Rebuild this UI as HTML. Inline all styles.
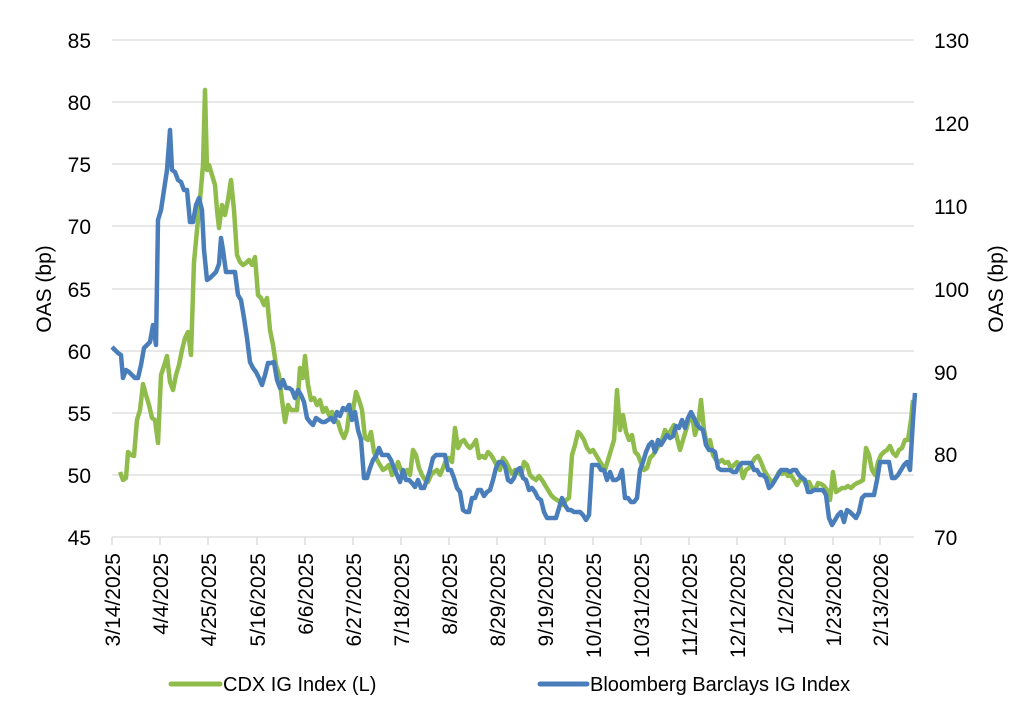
<!DOCTYPE html>
<html><head><meta charset="utf-8"><style>
html,body{margin:0;padding:0;background:#fff;width:1024px;height:717px;overflow:hidden}
text{font-family:"Liberation Sans",Arial,sans-serif;fill:#000}
</style></head><body>
<svg width="1024" height="717" viewBox="0 0 1024 717">
<g stroke="#d9d9d9" stroke-width="1.3">
<line x1="112" x2="914" y1="40" y2="40"/><line x1="112" x2="914" y1="102" y2="102"/>
<line x1="112" x2="914" y1="164" y2="164"/><line x1="112" x2="914" y1="226" y2="226"/>
<line x1="112" x2="914" y1="289" y2="289"/><line x1="112" x2="914" y1="351" y2="351"/>
<line x1="112" x2="914" y1="413" y2="413"/><line x1="112" x2="914" y1="475" y2="475"/>
<line x1="112" x2="914" y1="537" y2="537"/>
</g>
<g stroke="#d9d9d9" stroke-width="1.3"><line x1="112" x2="112" y1="537" y2="545"/><line x1="160" x2="160" y1="537" y2="545"/><line x1="208" x2="208" y1="537" y2="545"/><line x1="257" x2="257" y1="537" y2="545"/><line x1="305" x2="305" y1="537" y2="545"/><line x1="353" x2="353" y1="537" y2="545"/><line x1="401" x2="401" y1="537" y2="545"/><line x1="449" x2="449" y1="537" y2="545"/><line x1="497" x2="497" y1="537" y2="545"/><line x1="545" x2="545" y1="537" y2="545"/><line x1="593" x2="593" y1="537" y2="545"/><line x1="641" x2="641" y1="537" y2="545"/><line x1="689" x2="689" y1="537" y2="545"/><line x1="737" x2="737" y1="537" y2="545"/><line x1="785" x2="785" y1="537" y2="545"/><line x1="833" x2="833" y1="537" y2="545"/><line x1="880" x2="880" y1="537" y2="545"/></g>
<g font-size="21" text-anchor="end">
<text x="91" y="48">85</text><text x="91" y="110">80</text><text x="91" y="172">75</text><text x="91" y="234">70</text><text x="91" y="297">65</text><text x="91" y="359">60</text><text x="91" y="421">55</text><text x="91" y="483">50</text><text x="91" y="545">45</text>
</g>
<g font-size="21" text-anchor="start">
<text x="934" y="48">130</text><text x="934" y="131">120</text><text x="934" y="214">110</text><text x="934" y="297">100</text><text x="934" y="380">90</text><text x="934" y="462">80</text><text x="934" y="545">70</text>
</g>
<text font-size="21" transform="translate(51,289) rotate(-90)" text-anchor="middle">OAS (bp)</text>
<text font-size="21" transform="translate(1003,289) rotate(-90)" text-anchor="middle">OAS (bp)</text>
<g font-size="21" text-anchor="end">
<text transform="translate(120,553) rotate(-90)">3/14/2025</text>
<text transform="translate(168,553) rotate(-90)">4/4/2025</text>
<text transform="translate(216,553) rotate(-90)">4/25/2025</text>
<text transform="translate(265,553) rotate(-90)">5/16/2025</text>
<text transform="translate(313,553) rotate(-90)">6/6/2025</text>
<text transform="translate(361,553) rotate(-90)">6/27/2025</text>
<text transform="translate(409,553) rotate(-90)">7/18/2025</text>
<text transform="translate(457,553) rotate(-90)">8/8/2025</text>
<text transform="translate(505,553) rotate(-90)">8/29/2025</text>
<text transform="translate(553,553) rotate(-90)">9/19/2025</text>
<text transform="translate(601,553) rotate(-90)">10/10/2025</text>
<text transform="translate(649,553) rotate(-90)">10/31/2025</text>
<text transform="translate(697,553) rotate(-90)">11/21/2025</text>
<text transform="translate(745,553) rotate(-90)">12/12/2025</text>
<text transform="translate(793,553) rotate(-90)">1/2/2026</text>
<text transform="translate(841,553) rotate(-90)">1/23/2026</text>
<text transform="translate(888,553) rotate(-90)">2/13/2026</text>
</g>
<polyline fill="none" stroke="#8fbc4a" stroke-width="4.5" stroke-linejoin="round" points="120,472 123,480 126,478 128,452 131,455 134,456 137,420 140,410 143,384 146,395 149,405 152,418 155,420 158,443 161,375 164,366 167,356 170,382 173,390 176,375 179,365 182,350 185,338 188,332 191,355 194,262 197,230 200,200 203,165 205,90 207,170 209,165 212,175 215,185 217,210 219,228 222,205 225,215 228,200 231,180 234,210 237,255 240,262 243,265 246,263 249,260 252,265 255,257 258,295 261,298 264,305 267,298 270,330 273,345 276,365 279,375 282,400 285,422 288,405 291,410 294,410 297,410 300,368 303,378 305,356 308,385 311,400 314,398 317,405 320,400 323,412 326,408 329,415 332,412 335,420 338,422 341,432 344,438 347,430 350,405 353,410 356,392 359,400 362,410 365,438 368,440 371,432 374,452 377,460 380,465 383,470 386,468 389,465 392,475 395,472 398,462 401,470 404,478 407,470 410,475 413,450 416,455 419,468 422,475 425,480 428,482 431,475 434,472 437,470 440,475 443,468 446,460 449,458 452,462 455,428 458,448 461,442 464,440 467,445 470,448 473,445 476,440 479,458 482,456 485,458 488,452 491,455 494,460 497,466 500,470 503,458 506,462 509,468 512,474 515,470 518,472 521,475 524,462 527,465 530,475 533,478 536,480 539,476 542,480 545,485 548,490 551,495 554,498 557,500 560,502 563,505 566,500 569,498 572,455 575,445 578,432 581,435 584,440 587,448 590,452 593,450 596,455 599,460 602,465 605,470 608,460 611,450 614,440 617,390 620,430 623,415 626,432 629,440 632,435 635,452 638,455 641,463 644,470 647,468 650,458 653,455 656,450 659,445 662,440 665,430 668,435 671,430 674,425 677,438 680,450 683,440 686,430 689,420 692,415 695,435 698,425 701,400 704,430 707,445 710,440 713,455 716,460 719,462 722,460 725,463 728,462 731,468 734,465 737,462 740,465 743,478 746,470 749,468 752,463 755,458 758,456 761,462 764,470 767,475 770,480 773,482 776,478 779,472 782,474 785,472 788,476 791,475 794,480 797,485 800,480 803,478 806,485 809,482 812,488 815,490 818,483 821,484 824,486 827,490 830,500 833,472 836,492 839,490 842,488 845,488 848,486 851,488 854,485 857,483 860,482 863,480 866,448 869,455 872,470 875,475 878,462 881,455 884,452 887,450 890,446 893,453 896,456 899,450 902,448 905,440 908,440 911,420 913,400"/>
<polyline fill="none" stroke="#4a7ebb" stroke-width="4.5" stroke-linejoin="round" points="112,347 115,350 118,353 121,355 123,378 126,370 129,372 132,375 135,378 138,378 141,365 144,348 147,345 150,342 153,325 156,345 158,220 161,210 164,190 167,170 170,130 172,170 175,172 178,180 181,182 184,190 187,190 190,222 193,222 196,205 199,198 202,210 204,250 207,280 210,278 213,275 216,272 219,264 221,238 223,250 226,272 229,272 232,272 235,272 238,295 241,300 244,318 247,338 250,362 253,368 256,372 259,378 262,385 265,375 268,363 271,363 274,362 277,380 280,388 283,380 286,388 289,388 292,390 295,398 298,390 301,395 304,402 307,418 310,422 313,425 316,418 319,420 322,422 325,422 328,420 331,418 334,422 337,412 340,416 343,408 346,410 349,405 352,420 355,412 358,430 361,440 364,478 367,478 370,468 373,460 376,456 379,448 382,455 385,455 388,455 391,460 394,468 397,475 400,482 403,470 406,480 409,480 412,483 415,487 418,480 421,488 424,488 427,480 430,470 433,458 436,455 439,455 442,455 445,455 448,470 451,470 454,478 457,488 460,492 463,510 466,512 469,512 472,498 475,498 478,490 481,490 484,496 487,492 490,490 493,480 496,468 499,462 502,462 505,466 508,480 511,482 514,478 517,470 520,468 523,478 526,480 529,490 532,488 535,492 538,498 541,500 544,512 547,518 550,518 553,518 556,518 559,508 562,498 565,505 568,510 571,510 574,512 577,512 580,512 583,515 586,520 589,515 592,465 595,465 598,465 601,470 604,470 607,480 610,472 613,480 616,480 619,478 622,470 625,498 628,498 631,502 634,502 637,498 640,470 643,462 646,452 649,445 652,442 655,452 658,440 661,445 664,440 667,435 670,438 673,436 676,426 679,428 682,420 685,428 688,418 691,412 694,418 697,425 700,428 703,430 706,445 709,450 712,450 715,452 718,468 721,470 724,470 727,470 730,470 733,472 736,472 739,466 742,463 745,463 748,463 751,463 754,470 757,470 760,475 763,475 766,478 769,488 772,485 775,480 778,475 781,470 784,470 787,470 790,472 793,470 796,470 799,475 802,478 805,480 808,492 811,492 814,490 817,490 820,490 823,490 826,495 829,518 832,525 835,520 838,515 841,512 844,522 847,510 850,512 853,515 856,518 859,512 862,498 865,495 868,495 871,495 874,495 877,480 880,462 883,462 886,462 889,462 892,478 895,478 898,475 901,470 904,465 907,462 910,470 913,420 915,393"/>
<line x1="171" x2="220" y1="684" y2="684" stroke="#8fbc4a" stroke-width="5" stroke-linecap="round"/>
<text x="223" y="691" font-size="20">CDX IG Index (L)</text>
<line x1="540" x2="587" y1="684" y2="684" stroke="#4a7ebb" stroke-width="5" stroke-linecap="round"/>
<text x="590" y="691" font-size="20">Bloomberg Barclays IG Index</text>
</svg>
</body></html>
